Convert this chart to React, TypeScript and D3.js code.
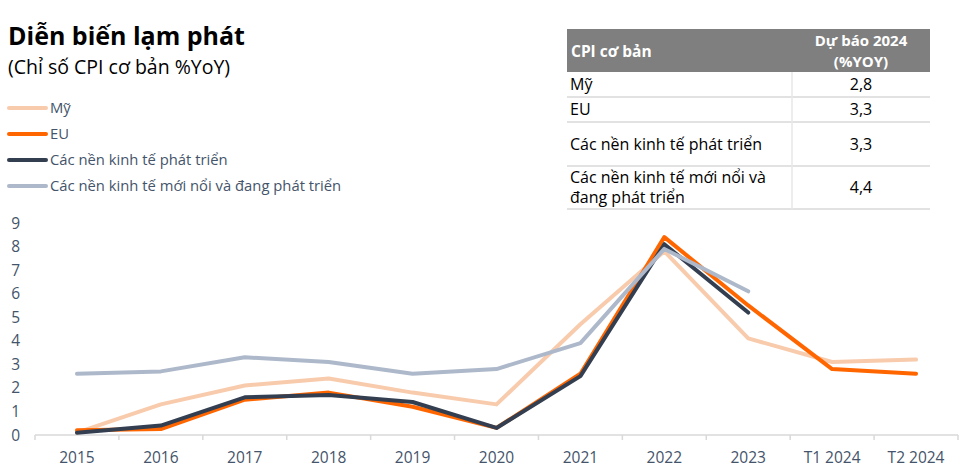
import React, { useRef, useEffect } from 'react'
import * as d3 from 'd3'

const categories = ['2015', '2016', '2017', '2018', '2019', '2020', '2021', '2022', '2023', 'T1 2024', 'T2 2024']

const usValues = [0.1, 1.3, 2.1, 2.4, 1.8, 1.3, 4.7, 7.8, 4.1, 3.1, 3.2]
const euValues = [0.2, 0.25, 1.5, 1.8, 1.2, 0.3, 2.6, 8.4, 5.5, 2.8, 2.6]
const advancedValues = [0.1, 0.4, 1.6, 1.7, 1.4, 0.3, 2.5, 8.1, 5.2]
const emergingValues = [2.6, 2.7, 3.3, 3.1, 2.6, 2.8, 3.9, 7.9, 6.1]

const seriesNames = ['Mỹ', 'EU', 'Các nền kinh tế phát triển', 'Các nền kinh tế mới nổi và đang phát triển']
const seriesColors = ['#F8CBAD', '#FF6600', '#333F50', '#ADB9CA']

const yTicks = [0, 1, 2, 3, 4, 5, 6, 7, 8, 9]

const tableHeader = ['CPI cơ bản', ['Dự báo 2024', '(%YOY)']]
const tableRows = [['Mỹ'], ['EU'], ['Các nền kinh tế phát triển'], ['Các nền kinh tế mới nổi và', 'đang phát triển']]
const tableValues = ['2,8', '3,3', '3,3', '4,4']

const font = "'Open Sans', 'Noto Sans', sans-serif"
const textColor = '#44546A'

const Chart: React.FC = () => {
  const svgRef = useRef<SVGSVGElement | null>(null)

  useEffect(() => {
    const svg = d3.select(svgRef.current)
    svg.selectAll('*').remove()

    const width = 975
    const height = 475
    const margin = { top: 223, right: 17, bottom: 40, left: 35 }

    const x = d3
      .scaleBand()
      .domain(categories)
      .range([margin.left, width - margin.right])

    const y = d3
      .scaleLinear()
      .domain([0, 9])
      .range([height - margin.bottom, margin.top])

    // title
    svg.append('text')
      .attr('x', 8).attr('y', 45)
      .attr('font-family', font).attr('font-weight', 700).attr('font-size', 25)
      .attr('fill', '#000')
      .text('Diễn biến lạm phát')
    svg.append('text')
      .attr('x', 8).attr('y', 74)
      .attr('font-family', font).attr('font-size', 19.5)
      .attr('fill', '#000')
      .text('(Chỉ số CPI cơ bản %YoY)')

    // legend
    const legend = svg.append('g')
    seriesNames.forEach((name, i) => {
      const ly = 108 + i * 26
      legend.append('line')
        .attr('x1', 9).attr('x2', 46).attr('y1', ly).attr('y2', ly)
        .attr('stroke', seriesColors[i]).attr('stroke-width', 4).attr('stroke-linecap', 'round')
      legend.append('text')
        .attr('x', 50).attr('y', ly + 5)
        .attr('font-family', font).attr('font-size', 14.8)
        .attr('fill', textColor)
        .text(name)
    })

    // x axis
    const xAxis = svg.append('g')
      .attr('transform', `translate(0,${y(0)})`)
    xAxis.append('line')
      .attr('x1', margin.left).attr('x2', width - margin.right)
      .attr('stroke', '#D9D9D9').attr('stroke-width', 1.5)
    const bounds = categories.map((c) => x(c)!).concat([width - margin.right])
    xAxis.selectAll('line.tick').data(bounds).enter().append('line')
      .attr('class', 'tick')
      .attr('x1', (d) => d).attr('x2', (d) => d).attr('y1', 0).attr('y2', 5)
      .attr('stroke', '#D9D9D9').attr('stroke-width', 1.5)
    xAxis.selectAll('text').data(categories).enter().append('text')
      .attr('x', (d) => x(d)! + x.bandwidth() / 2).attr('y', 28)
      .attr('text-anchor', 'middle')
      .attr('font-family', font).attr('font-size', 15.5).attr('fill', textColor)
      .text((d) => d)

    // y axis labels
    svg.append('g').selectAll('text').data(yTicks).enter().append('text')
      .attr('x', 20).attr('y', (d) => y(d) + 5.5)
      .attr('text-anchor', 'end')
      .attr('font-family', font).attr('font-size', 15.5).attr('fill', textColor)
      .text((d) => d)

    // lines
    const allSeries = [usValues, euValues, advancedValues, emergingValues]
    const line = d3.line<number>()
      .x((_, i) => x(categories[i])! + x.bandwidth() / 2)
      .y((d) => y(d))
    allSeries.forEach((vals, i) => {
      svg.append('path')
        .datum(vals)
        .attr('fill', 'none')
        .attr('stroke', seriesColors[i])
        .attr('stroke-width', 4)
        .attr('stroke-linejoin', 'round')
        .attr('stroke-linecap', 'round')
        .attr('d', line)
    })

    // forecast table
    const tx0 = 567
    const tx1 = 792
    const tx2 = 930
    const headerTop = 29
    const headerBottom = 72
    const rowEdges = [72, 97, 122, 166, 209]
    const table = svg.append('g')
    table.append('rect')
      .attr('x', tx0).attr('y', headerTop).attr('width', tx2 - tx0).attr('height', headerBottom - headerTop)
      .attr('fill', '#7F7F7F')
    table.append('text')
      .attr('x', tx0 + 4).attr('y', 57)
      .attr('font-family', font).attr('font-weight', 700).attr('font-size', 15.5)
      .attr('fill', '#fff').text(tableHeader[0] as string)
    ;(tableHeader[1] as string[]).forEach((t, i) => {
      table.append('text')
        .attr('x', (tx1 + tx2) / 2).attr('y', 45.5 + i * 21.5)
        .attr('text-anchor', 'middle')
        .attr('font-family', font).attr('font-weight', 700).attr('font-size', 15)
        .attr('fill', '#fff').text(t)
    })
    rowEdges.slice(1).forEach((e) => {
      table.append('line')
        .attr('x1', tx0).attr('x2', tx2).attr('y1', e).attr('y2', e)
        .attr('stroke', '#D9D9D9').attr('stroke-width', 1.5)
    })
    table.append('line')
      .attr('x1', tx1).attr('x2', tx1).attr('y1', headerBottom).attr('y2', rowEdges[rowEdges.length - 1])
      .attr('stroke', '#E7E7E7').attr('stroke-width', 1.5)
    tableRows.forEach((lines, i) => {
      const top = rowEdges[i]
      const bottom = rowEdges[i + 1]
      const mid = (top + bottom) / 2
      lines.forEach((t, j) => {
        table.append('text')
          .attr('x', tx0 + 3)
          .attr('y', mid + 5.5 + (j - (lines.length - 1) / 2) * 20)
          .attr('font-family', font).attr('font-size', 16).attr('fill', '#000')
          .text(t)
      })
      table.append('text')
        .attr('x', (tx1 + tx2) / 2).attr('y', mid + 5.5)
        .attr('text-anchor', 'middle')
        .attr('font-family', font).attr('font-size', 16).attr('fill', '#000')
        .text(tableValues[i])
    })
  }, [])

  return (
    <svg
      ref={svgRef}
      width={975}
      height={475}
      style={{ position: 'absolute', left: 0, top: 0, background: '#fff' }}
    ></svg>
  )
}

export default function App() {
  return <Chart />
}
